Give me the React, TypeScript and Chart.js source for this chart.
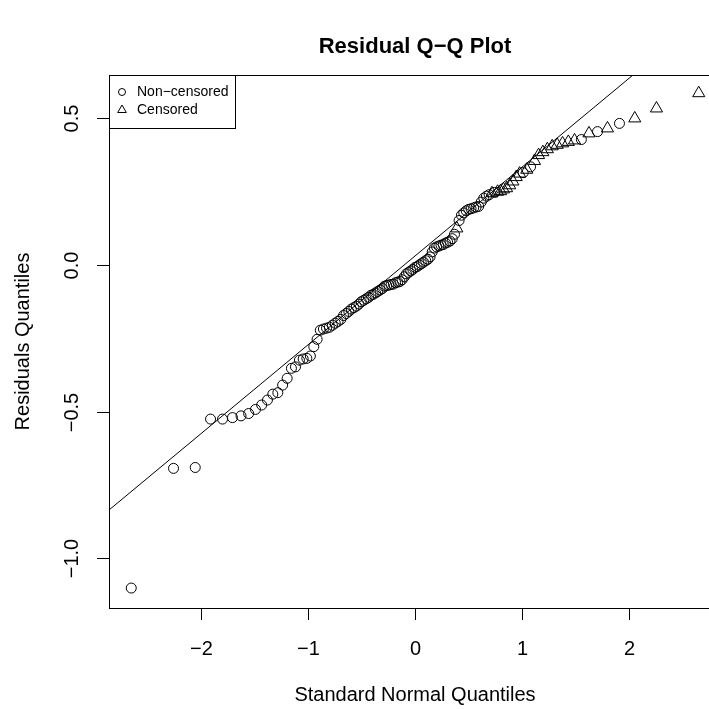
import React, { useEffect, useRef } from "react";
import { Chart, registerables } from "chart.js";

Chart.register(...registerables);

// Theoretical standard normal quantiles (x) and residual quantiles (y)
const NONCENSORED_X = [
  -2.652, -2.257, -2.054, -1.911, -1.799, -1.706, -1.626, -1.555, -1.491, -1.433,
  -1.379, -1.329, -1.282, -1.237, -1.195, -1.155, -1.117, -1.080, -1.045, -1.011,
  -0.978, -0.946, -0.915, -0.885, -0.856, -0.827, -0.800, -0.772, -0.745, -0.719,
  -0.693, -0.668, -0.643, -0.619, -0.595, -0.571, -0.548, -0.524, -0.502, -0.479,
  -0.456, -0.434, -0.412, -0.391, -0.369, -0.348, -0.327, -0.305, -0.285, -0.264,
  -0.243, -0.223, -0.202, -0.181, -0.161, -0.141, -0.121, -0.100, -0.080, -0.060,
  -0.040, -0.020, 0.000, 0.020, 0.040, 0.060, 0.080, 0.100, 0.121, 0.141,
  0.161, 0.181, 0.202, 0.223, 0.243, 0.264, 0.285, 0.305, 0.327, 0.348,
  0.369, 0.412, 0.434, 0.456, 0.479, 0.502, 0.524, 0.548, 0.571, 0.595,
  0.619, 0.643, 0.668, 0.693, 0.745, 1.011, 1.080, 1.555, 1.706, 1.911,
];
const NONCENSORED_Y = [
  -1.101, -0.693, -0.690, -0.525, -0.525, -0.520, -0.514, -0.506, -0.492, -0.477,
  -0.460, -0.440, -0.435, -0.409, -0.386, -0.352, -0.347, -0.324, -0.320, -0.318,
  -0.310, -0.278, -0.253, -0.222, -0.218, -0.215, -0.212, -0.205, -0.198, -0.192,
  -0.185, -0.172, -0.165, -0.158, -0.150, -0.145, -0.140, -0.133, -0.125, -0.120,
  -0.115, -0.110, -0.103, -0.100, -0.095, -0.090, -0.085, -0.080, -0.072, -0.070,
  -0.068, -0.066, -0.065, -0.060, -0.058, -0.056, -0.050, -0.040, -0.030, -0.025,
  -0.020, -0.015, -0.008, -0.005, 0.000, 0.005, 0.010, 0.015, 0.020, 0.028,
  0.045, 0.058, 0.062, 0.065, 0.068, 0.070, 0.075, 0.078, 0.082, 0.090,
  0.105, 0.152, 0.170, 0.178, 0.185, 0.190, 0.192, 0.195, 0.198, 0.200,
  0.215, 0.228, 0.235, 0.240, 0.248, 0.315, 0.335, 0.428, 0.455, 0.483,
];
const CENSORED_X = [
  0.391, 0.719, 0.772, 0.800, 0.827, 0.856, 0.885, 0.915, 0.946, 0.978,
  1.045, 1.117, 1.155, 1.195, 1.237, 1.282, 1.329, 1.379, 1.433, 1.491,
  1.626, 1.799, 2.054, 2.257, 2.652,
];
const CENSORED_Y = [
  0.125, 0.245, 0.250, 0.252, 0.258, 0.262, 0.272, 0.285, 0.300, 0.312,
  0.325, 0.355, 0.375, 0.385, 0.395, 0.405, 0.410, 0.415, 0.420, 0.425,
  0.449, 0.466, 0.500, 0.534, 0.586,
];
// Reference line (qqline) end points
const LINE_X = [-2.86, 2.86];
const LINE_Y = [-0.835, 0.897];

const X_TICKS = [-2, -1, 0, 1, 2];
const X_TICK_LABELS = ["\u22122", "\u22121", "0", "1", "2"];
const Y_TICKS = [-1.0, -0.5, 0.0, 0.5];
const Y_TICK_LABELS = ["\u22121.0", "\u22120.5", "0.0", "0.5"];
const X_RANGE = [-2.86, 2.86];
const Y_RANGE = [-1.169, 0.648];

const TITLE = "Residual Q\u2212Q Plot";
const X_TITLE = "Standard Normal Quantiles";
const Y_TITLE = "Residuals Quantiles";
const LEGEND_LABELS = ["Non\u2212censored", "Censored"];

const FONT = "'Liberation Sans', Arial, Helvetica, sans-serif";
const CANVAS_W = 740;
const CANVAS_H = 709;

const rPlotPlugin = {
  id: "rPlot",
  afterDraw(chart: any) {
    const ctx = chart.ctx as CanvasRenderingContext2D;
    const { left, right, top, bottom } = chart.chartArea;
    const xs = chart.scales.x;
    const ys = chart.scales.y;
    ctx.save();
    ctx.strokeStyle = "#000";
    ctx.fillStyle = "#000";
    ctx.lineWidth = 1;
    // box
    ctx.strokeRect(left + 0.5, top + 0.5, right - left, bottom - top);
    // x ticks
    ctx.font = `20px ${FONT}`;
    ctx.textAlign = "center";
    ctx.textBaseline = "middle";
    X_TICKS.forEach((v, i) => {
      const px = Math.round(xs.getPixelForValue(v)) + 0.5;
      ctx.beginPath();
      ctx.moveTo(px, bottom);
      ctx.lineTo(px, bottom + 12);
      ctx.stroke();
      ctx.fillText(X_TICK_LABELS[i], px, bottom + 41);
    });
    // y ticks
    Y_TICKS.forEach((v, i) => {
      const py = Math.round(ys.getPixelForValue(v)) + 0.5;
      ctx.beginPath();
      ctx.moveTo(left - 12, py);
      ctx.lineTo(left, py);
      ctx.stroke();
      ctx.save();
      ctx.translate(left - 37, py);
      ctx.rotate(-Math.PI / 2);
      ctx.fillText(Y_TICK_LABELS[i], 0, 0);
      ctx.restore();
    });
    // axis titles
    ctx.fillText(X_TITLE, (left + right) / 2, bottom + 87);
    ctx.save();
    ctx.translate(23, (top + bottom) / 2);
    ctx.rotate(-Math.PI / 2);
    ctx.fillText(Y_TITLE, 0, 0);
    ctx.restore();
    // main title
    ctx.font = `bold 22px ${FONT}`;
    ctx.fillText(TITLE, (left + right) / 2, 47);
    // legend
    const lw = 126;
    const lh = 53;
    ctx.fillStyle = "#fff";
    ctx.fillRect(left, top, lw, lh);
    ctx.fillStyle = "#000";
    ctx.strokeRect(left + 0.5, top + 0.5, lw, lh);
    ctx.font = `14px ${FONT}`;
    ctx.textAlign = "left";
    const rows = [top + 17, top + 35];
    // circle symbol
    ctx.beginPath();
    ctx.arc(left + 13, rows[0], 3.5, 0, Math.PI * 2);
    ctx.stroke();
    // triangle symbol
    const r = 5;
    ctx.beginPath();
    ctx.moveTo(left + 13, rows[1] - r);
    ctx.lineTo(left + 13 + r * 0.866, rows[1] + r / 2);
    ctx.lineTo(left + 13 - r * 0.866, rows[1] + r / 2);
    ctx.closePath();
    ctx.stroke();
    ctx.fillText(LEGEND_LABELS[0], left + 28, rows[0]);
    ctx.fillText(LEGEND_LABELS[1], left + 28, rows[1]);
    ctx.restore();
  },
};

export default function App() {
  const ref = useRef<HTMLCanvasElement | null>(null);
  useEffect(() => {
    if (!ref.current) return;
    const nc = NONCENSORED_X.map((x, i) => ({ x, y: NONCENSORED_Y[i] }));
    const c = CENSORED_X.map((x, i) => ({ x, y: CENSORED_Y[i] }));
    const line = LINE_X.map((x, i) => ({ x, y: LINE_Y[i] }));
    const chart = new Chart(ref.current, {
      type: "scatter",
      data: {
        datasets: [
          {
            label: "qqline",
            data: line,
            showLine: true,
            borderColor: "#000",
            borderWidth: 1,
            pointRadius: 0,
            fill: false,
          },
          {
            label: LEGEND_LABELS[0],
            data: nc,
            pointStyle: "circle",
            pointRadius: 5,
            borderColor: "#000",
            backgroundColor: "rgba(0,0,0,0)",
            borderWidth: 1,
          },
          {
            label: LEGEND_LABELS[1],
            data: c,
            pointStyle: "triangle",
            pointRadius: 7,
            borderColor: "#000",
            backgroundColor: "rgba(0,0,0,0)",
            borderWidth: 1,
          },
        ],
      },
      options: {
        responsive: false,
        animation: false,
        devicePixelRatio: 1,
        layout: { padding: { left: 109, top: 75, right: CANVAS_W - 721, bottom: CANVAS_H - 608 } },
        plugins: { legend: { display: false }, title: { display: false }, tooltip: { enabled: false } },
        scales: {
          x: { type: "linear", display: false, min: X_RANGE[0], max: X_RANGE[1] },
          y: { type: "linear", display: false, min: Y_RANGE[0], max: Y_RANGE[1] },
        },
      },
      plugins: [rPlotPlugin],
    });
    return () => chart.destroy();
  }, []);
  return (
    <div
      style={{
        position: "fixed",
        left: 0,
        top: 0,
        width: 709,
        height: 709,
        overflow: "hidden",
        background: "#fff",
      }}
    >
      <canvas ref={ref} width={CANVAS_W} height={CANVAS_H} style={{ display: "block", width: CANVAS_W, height: CANVAS_H }} />
    </div>
  );
}
